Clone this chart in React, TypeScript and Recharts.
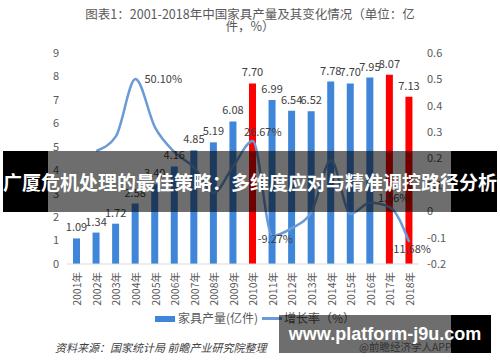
import React from "react";
import { ComposedChart, Bar, Line, XAxis, YAxis, Cell, LabelList } from "recharts";

const years = ["2001", "2002", "2003", "2004", "2005", "2006", "2007", "2008", "2009", "2010", "2011", "2012", "2013", "2014", "2015", "2016", "2017", "2018"];
const output = [1.09, 1.34, 1.72, 2.58, 3.4, 4.16, 4.85, 5.19, 6.08, 7.7, 6.99, 6.54, 6.52, 7.78, 7.7, 7.95, 8.07, 7.13];
const growth = [null, 0.229, 0.284, 0.501, 0.318, 0.224, 0.166, 0.07, 0.171, 0.2667, -0.0927, -0.064, -0.003, 0.193, -0.01, 0.032, 0.0156, -0.1168];
const redYears = ["2010", "2017", "2018"];
const labelledGrowthYears = ["2004", "2010", "2011", "2017", "2018"];
const leftTicks = [0, 1, 2, 3, 4, 5, 6, 7, 8, 9];
const rightTicks = [-0.2, -0.1, 0, 0.1, 0.2, 0.3, 0.4, 0.5, 0.6];

const data = years.map((y, i) => ({ year: y, output: output[i], growth: growth[i] }));

const BLUE = "#3f86d9";
const LINE = "#6b9bd6";
const RED = "#ff0000";
const TXT = "#595959";
const FONT = "'Noto Sans CJK SC', 'Noto Sans', sans-serif";

// offsets for the few growth labels shown
const labelPos: Record<string, { dx: number; dy: number; anchor: "start" | "middle" }> = {
  "2004": { dx: 9, dy: 4, anchor: "start" },
  "2010": { dx: 10, dy: -5, anchor: "middle" },
  "2011": { dx: 3, dy: 7, anchor: "middle" },
  "2017": { dx: 4, dy: -5, anchor: "middle" },
  "2018": { dx: 1, dy: 11, anchor: "middle" },
};

const YearTick = (props: any) => {
  const { x, y, payload } = props;
  return (
    <text x={x} y={y} transform={`rotate(-90 ${x} ${y})`} textAnchor="end" dominantBaseline="central" fontSize={10.5} fill={TXT} fontFamily={FONT}>
      {payload.value}年
    </text>
  );
};

const GrowthLabel = (props: any) => {
  const { x, y, value, index } = props;
  const yr = years[index];
  if (!labelledGrowthYears.includes(yr) || value == null) return null;
  const p = labelPos[yr];
  return (
    <text x={x + p.dx} y={y + p.dy} textAnchor={p.anchor} fontSize={11} fill="#404040" fontFamily={FONT}>
      {(value * 100).toFixed(2)}%
    </text>
  );
};

export default function App() {
  return (
    <div style={{ position: "absolute", left: 0, top: 0, width: 500, height: 362, background: "#fff", fontFamily: FONT, overflow: "hidden" }}>
      <div style={{ position: "absolute", left: 0, top: 8, width: 500, textAlign: "center", fontSize: 12.5, lineHeight: "12px", color: TXT }}>
        图表1：2001-2018年中国家具产量及其变化情况（单位：亿<br />件，%）
      </div>
      <ComposedChart width={500} height={362} data={data} margin={{ top: 53, right: 0, bottom: 58, left: 0 }}>
        <XAxis dataKey="year" height={40} tick={<YearTick />} tickLine={false} tickSize={0} tickMargin={8} axisLine={{ stroke: "#d9d9d9" }} interval={0} />
        <YAxis yAxisId="l" domain={[0, 9]} ticks={leftTicks} width={67} axisLine={false} tickLine={false} tick={{ fontSize: 11, fill: TXT, fontFamily: FONT }} />
        <YAxis yAxisId="r" orientation="right" domain={[-0.2, 0.6]} ticks={rightTicks} width={81} axisLine={false} tickLine={false} tick={{ fontSize: 11, fill: TXT, fontFamily: FONT }} />
        <Bar yAxisId="l" dataKey="output" barSize={7} isAnimationActive={false}>
          {data.map((d) => (
            <Cell key={d.year} fill={redYears.includes(d.year) ? RED : BLUE} />
          ))}
          <LabelList dataKey="output" position="top" offset={7} formatter={(v: any) => Number(v).toFixed(2)} fontSize={11} fill="#404040" fontFamily={FONT} />
        </Bar>
        <Line yAxisId="r" dataKey="growth" type="monotone" stroke={LINE} strokeWidth={2.5} dot={false} isAnimationActive={false}>
          <LabelList dataKey="growth" content={<GrowthLabel />} />
        </Line>
      </ComposedChart>

      {/* legend */}
      <div style={{ position: "absolute", left: 155, top: 316, width: 20, height: 6, background: BLUE }} />
      <div style={{ position: "absolute", left: 178, top: 310, fontSize: 12, color: TXT, lineHeight: "16px" }}>家具产量(亿件)</div>
      <div style={{ position: "absolute", left: 262, top: 317, width: 20, height: 2.5, background: LINE }} />
      <div style={{ position: "absolute", left: 284, top: 310, fontSize: 12, color: TXT, lineHeight: "16px" }}>增长率（%）</div>

      <div style={{ position: "absolute", left: 55, top: 340, fontSize: 11, fontStyle: "italic", color: "#404040", lineHeight: "14px" }}>
        资料来源：国家统计局 前瞻产业研究院整理
      </div>
      <div style={{ position: "absolute", left: 359, top: 340, fontSize: 10.5, color: "#777", lineHeight: "14px" }}>@前瞻经济学人APP</div>

      {/* overlay banner */}
      <div style={{ position: "absolute", left: 3, top: 151, width: 494, height: 61, background: "linear-gradient(to right, #000 0px, #000 45px, rgba(0,0,0,0.57) 45px, rgba(0,0,0,0.57) 448px, #000 448px, #000 494px)" }} />
      <div style={{ position: "absolute", left: 0, top: 151, width: 500, height: 61, display: "flex", alignItems: "center", justifyContent: "center", color: "#fff", fontWeight: 700, fontSize: 19, whiteSpace: "nowrap", letterSpacing: 0 }}>
        广厦危机处理的最佳策略：多维度应对与精准调控路径分析
      </div>

      {/* bottom watermark */}
      <div style={{ position: "absolute", left: 279, top: 315, width: 212, height: 38, background: "linear-gradient(to right, rgba(0,0,0,0.57) 0px, rgba(0,0,0,0.57) 172px, #000 172px, #000 212px)" }} />
      <div style={{ position: "absolute", left: 279, top: 315, width: 212, height: 38, display: "flex", alignItems: "center", justifyContent: "center", color: "#fff", fontWeight: 700, fontSize: 18, fontFamily: "'Liberation Sans', Arial, sans-serif", whiteSpace: "nowrap" }}>
        www.platform-j9u.com
      </div>
    </div>
  );
}
